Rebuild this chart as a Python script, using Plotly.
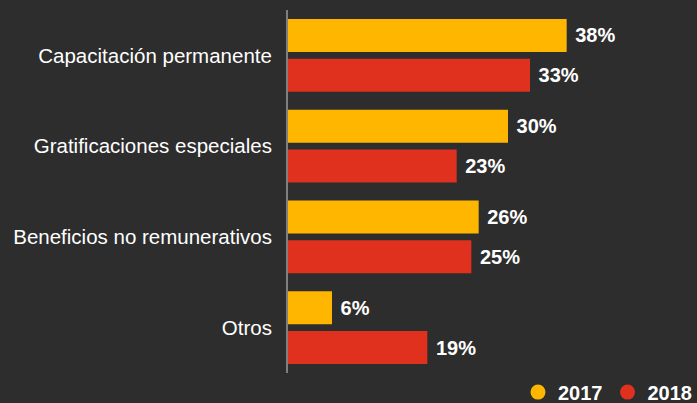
import plotly.graph_objects as go

categories = ["Capacitación permanente", "Gratificaciones especiales",
              "Beneficios no remunerativos", "Otros"]
values_2017 = [38, 30, 26, 6]
values_2018 = [33, 23, 25, 19]
series_names = ["2017", "2018"]
colors = ["#FFB600", "#E0301E"]

BG = "#2d2d2d"
FONT = "Liberation Sans, Arial, Helvetica, sans-serif"

fig = go.Figure()
for name, vals, col in zip(series_names, [values_2017, values_2018], colors):
    fig.add_trace(go.Bar(
        y=categories, x=vals, name=name, orientation="h",
        marker=dict(color=col, line=dict(width=0)),
        text=[f"<b>{v}%</b>" for v in vals],
        textposition="outside",
        texttemplate=" %{text}",
        textfont=dict(color="white", size=20, family=FONT),
        cliponaxis=False,
        showlegend=False,
    ))
    fig.add_trace(go.Scatter(
        x=[None], y=[None], mode="markers", name=f"<b>{name}</b>",
        marker=dict(color=col, size=15, symbol="circle"),
        showlegend=True,
    ))

fig.update_layout(
    width=697, height=403,
    paper_bgcolor=BG, plot_bgcolor=BG,
    margin=dict(l=288, r=57, t=10, b=30, autoexpand=False),
    barmode="group", bargap=0.12, bargroupgap=0.175,
    font=dict(family=FONT, color="white", size=20),
    legend=dict(orientation="h", xref="container", yref="container",
                x=1.0, xanchor="right", y=0.027, yanchor="middle",
                font=dict(size=20, color="white", family=FONT),
                bgcolor="rgba(0,0,0,0)", itemwidth=30, traceorder="normal"),
    xaxis=dict(range=[0, 48], showgrid=False, zeroline=False,
               showticklabels=False, showline=False, fixedrange=True),
    yaxis=dict(autorange="reversed", showgrid=False, zeroline=False,
               showline=True, linecolor="#7f7f7f", linewidth=2,
               ticks="", ticklabelstandoff=10, fixedrange=True,
               tickfont=dict(size=20.5, color="white", family=FONT)),
)

fig.write_html("out.html", config={"displayModeBar": False},
               post_script="document.body.style.margin='0';document.body.style.background='#2d2d2d';")
